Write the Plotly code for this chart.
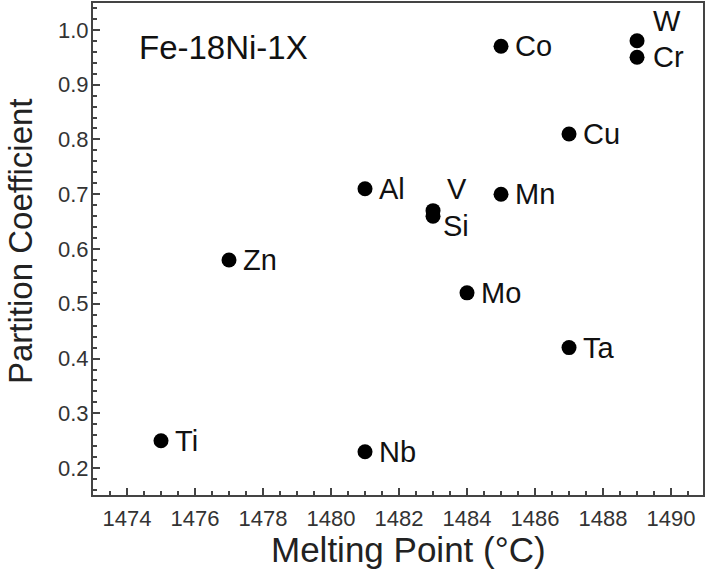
import plotly.graph_objects as go

elements = ["Ti", "Nb", "Zn", "Al", "V", "Si", "Mo", "Mn", "Co", "Ta", "Cu", "W", "Cr"]
melting_point = [1475, 1481, 1477, 1481, 1483, 1483, 1484, 1485, 1485, 1487, 1487, 1489, 1489]
partition_coef = [0.25, 0.23, 0.58, 0.71, 0.67, 0.66, 0.52, 0.70, 0.97, 0.42, 0.81, 0.98, 0.95]

# label offsets (pixels) for each element (positive dy = upward)
label_dx = {"V": 12, "Si": 8, "W": 14, "Cr": 14}
label_dy = {"V": 22, "Si": -10, "W": 20, "Cr": 0}

FONT = "Liberation Sans, Arial"

fig = go.Figure()
fig.add_trace(go.Scatter(
    x=melting_point, y=partition_coef, mode="markers",
    marker=dict(size=15, color="black"), showlegend=False, hoverinfo="skip"))

for el, x, y in zip(elements, melting_point, partition_coef):
    fig.add_annotation(x=x, y=y, text=el, showarrow=False, xanchor="left", yanchor="middle",
                       xshift=label_dx.get(el, 12), yshift=label_dy.get(el, 0),
                       font=dict(family=FONT, size=29, color="#111"))

fig.add_annotation(x=0.072, y=0.91, xref="paper", yref="paper", text="Fe-18Ni-1X",
                   showarrow=False, xanchor="left", yanchor="middle",
                   font=dict(family=FONT, size=33, color="#111"))

# axis titles
fig.add_annotation(x=0.5, y=0, xref="paper", yref="paper", text="Melting Point (°C)",
                   showarrow=False, xanchor="center", yanchor="middle",
                   xshift=10, yshift=-54,
                   font=dict(family=FONT, size=35, color="#222"))
fig.add_annotation(x=0, y=0.5, xref="paper", yref="paper", text="Partition Coefficient",
                   showarrow=False, xanchor="center", yanchor="middle", textangle=-90,
                   xshift=-73, yshift=8,
                   font=dict(family=FONT, size=33, color="#222"))

axis_common = dict(showline=True, linecolor="#444", linewidth=2, mirror=True,
                   ticks="inside", ticklen=7, tickwidth=1.5, tickcolor="#444",
                   showgrid=False, zeroline=False, automargin=False,
                   tickfont=dict(family=FONT, size=22, color="#333"),
                   minor=dict(ticks="inside", ticklen=4, tickcolor="#444", showgrid=False))

fig.update_xaxes(range=[1473.0, 1490.94], tick0=1474, dtick=2, ticklabelstandoff=3,
                 **axis_common)
fig.update_yaxes(range=[0.151, 1.049], tick0=0.2, dtick=0.1, tickformat=".1f",
                 ticklabelstandoff=-2, **axis_common)

fig.update_layout(width=706, height=574, margin=dict(l=93, r=3, t=3, b=79),
                  plot_bgcolor="white", paper_bgcolor="white")
fig.write_html("out.html", config={"displayModeBar": False},
               post_script="document.body.style.margin='0';document.body.style.overflow='hidden';")
